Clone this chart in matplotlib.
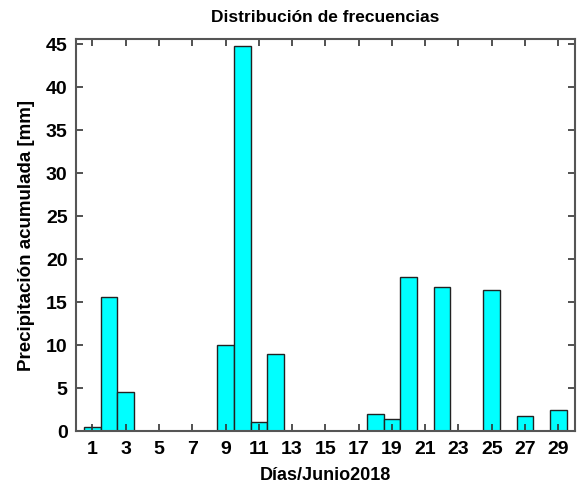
import numpy as np
import matplotlib
matplotlib.use('Agg')
import matplotlib.pyplot as plt

plt.rcParams['font.family'] = ['Liberation Sans', 'DejaVu Sans']
plt.rcParams['font.weight'] = 'bold'

dias = np.arange(1, 31)
precip = [0.5, 15.6, 4.6, 0, 0, 0, 0, 0, 10.1, 44.8,
          1.1, 9.0, 0, 0, 0, 0, 0, 2.0, 1.45, 18.0,
          0, 16.8, 0, 0, 16.4, 0, 1.85, 0, 2.5, 0]
xticks = list(range(1, 30, 2))
yticks = [0, 5, 10, 15, 20, 25, 30, 35, 40, 45]

fig = plt.figure(figsize=(5.79, 4.90), dpi=100)
ax = fig.add_axes([0.131, 0.1194, 0.862, 0.801])

ax.bar(dias, precip, width=1.0, color='#00ffff', edgecolor='#222222', linewidth=1.0)

ax.set_xlim(0, 30)
ax.set_ylim(0, 45.6)
ax.set_xticks(xticks)
ax.set_yticks(yticks)
ax.tick_params(direction='in', top=True, right=True, length=5, width=1.2,
               color='#333333', labelsize=14)
ax.tick_params(axis='x', pad=7)
ax.tick_params(axis='y', pad=6)
for lbl in ax.get_xticklabels() + ax.get_yticklabels():
    lbl.set_fontweight('bold')
for s in ax.spines.values():
    s.set_color('#555555')
    s.set_linewidth(1.5)

ax.set_title('Distribución de frecuencias', fontsize=12.5, fontweight='bold', pad=12)
ax.set_xlabel('Días/Junio2018', fontsize=13, fontweight='bold', labelpad=6)
ax.set_ylabel('Precipitación acumulada [mm]', fontsize=13.5, fontweight='bold', labelpad=8)

fig.savefig('out.png', dpi=100)
